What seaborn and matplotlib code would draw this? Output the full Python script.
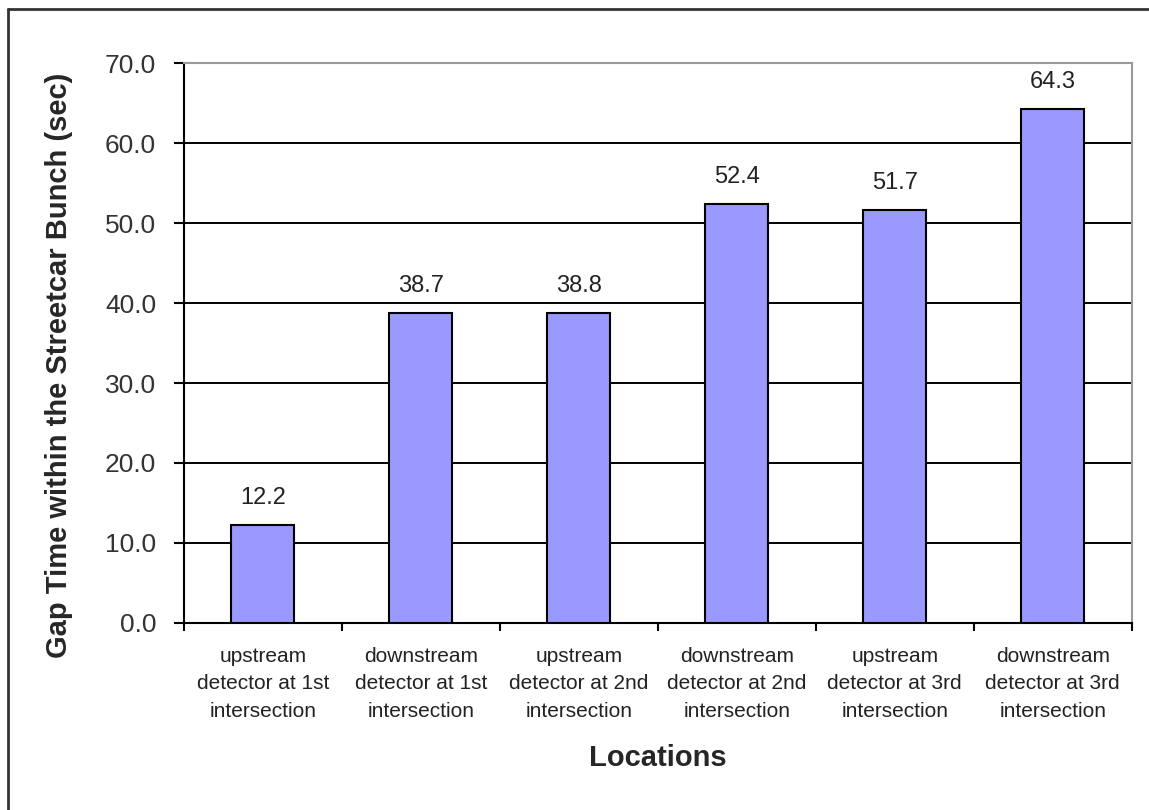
import matplotlib
matplotlib.use("Agg")
import matplotlib.pyplot as plt
import seaborn as sns
from matplotlib.lines import Line2D

locations = [
    "upstream\ndetector at 1st\nintersection",
    "downstream\ndetector at 1st\nintersection",
    "upstream\ndetector at 2nd\nintersection",
    "downstream\ndetector at 2nd\nintersection",
    "upstream\ndetector at 3rd\nintersection",
    "downstream\ndetector at 3rd\nintersection",
]
gap_time = [12.2, 38.7, 38.8, 52.4, 51.7, 64.3]
y_ticks = [0, 10, 20, 30, 40, 50, 60, 70]

sns.set_style("white")
plt.rcParams["font.family"] = ["Liberation Sans", "DejaVu Sans"]

fig = plt.figure(figsize=(11.49, 8.10), dpi=100)
ax = fig.add_axes([0.160, 0.231, 0.825, 0.691])

sns.barplot(x=locations, y=gap_time, color="#9999FF", saturation=1,
            width=0.4, edgecolor="black", linewidth=1.5, ax=ax, zorder=3)

ax.set_ylim(0, 70)
ax.set_xlim(-0.5, len(locations) - 0.5)
ax.set_yticks(y_ticks)
ax.set_yticklabels([f"{v:.1f}" for v in y_ticks])
for v in y_ticks[1:-1]:
    ax.axhline(v, color="black", lw=1.4, zorder=1)

for i, v in enumerate(gap_time):
    ax.text(i, v + 2.0, f"{v:.1f}", ha="center", va="bottom", fontsize=17, color="#222222")

ax.tick_params(axis="y", direction="out", length=7, width=1.5, pad=13,
               labelsize=19, colors="black", left=True)
ax.tick_params(axis="y", labelcolor="#333333")
ax.set_xticks(range(len(locations)))
ax.set_xticklabels(locations, fontsize=15, linespacing=1.58, color="#222222")
ax.tick_params(axis="x", which="major", length=0, pad=17)
ax.set_xticks([i - 0.5 for i in range(len(locations) + 1)], minor=True)
ax.tick_params(axis="x", which="minor", direction="out", length=6, width=1.5,
               bottom=True, color="black")

for side in ["left", "bottom"]:
    ax.spines[side].set_color("black")
    ax.spines[side].set_linewidth(1.5)
for side in ["top", "right"]:
    ax.spines[side].set_visible(True)
    ax.spines[side].set_color("#999999")
    ax.spines[side].set_linewidth(1.5)

ax.set_xlabel("Locations", fontsize=21, fontweight="bold")
ax.xaxis.set_label_coords(0.5, -0.216)
fig.text(59 / 1149, 1 - 365 / 810, "Gap Time within the Streetcar Bunch (sec)",
         rotation=90, ha="center", va="center", fontsize=21, fontweight="bold")

# outer chart frame (only the left and top edges are visible in the crop)
fig.add_artist(Line2D([8 / 1149, 8 / 1149], [0, 1 - 9 / 810], transform=fig.transFigure,
                      color="#333333", lw=2))
fig.add_artist(Line2D([8 / 1149, 1], [1 - 9 / 810, 1 - 9 / 810], transform=fig.transFigure,
                      color="#333333", lw=2))

fig.savefig("out.png", dpi=100)
